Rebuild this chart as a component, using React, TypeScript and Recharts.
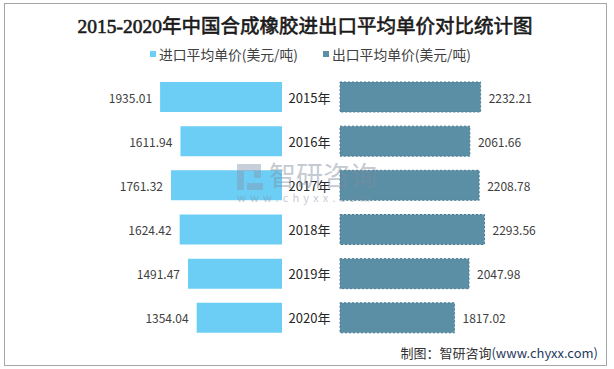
import React from 'react';
import { BarChart, Bar, XAxis, YAxis } from 'recharts';

const years = ['2015年', '2016年', '2017年', '2018年', '2019年', '2020年'];
const importPrice = [1935.01, 1611.94, 1761.32, 1624.42, 1491.47, 1354.04];
const exportPrice = [2232.21, 2061.66, 2208.78, 2293.56, 2047.98, 1817.02];
const seriesNames = ['进口平均单价(美元/吨)', '出口平均单价(美元/吨)'];
const title = '2015-2020年中国合成橡胶进出口平均单价对比统计图';
const sourceText = '制图：智研咨询';
const sourceUrl = '(www.chyxx.com)';

const data = years.map((y, i) => ({ year: y, imp: importPrice[i], exp: exportPrice[i] }));

const IMP_COLOR = '#6ccef5';
const EXP_COLOR = '#5b8fa6';
const FONT = '"Noto Sans CJK SC", "Noto Sans", sans-serif';

const ImpLabel = (props: any) => {
  const { x, y, width, height, value } = props;
  const left = Math.min(Number(x), Number(x) + Number(width));
  return (
    <text x={left - 8} y={Number(y) + Number(height) / 2} textAnchor="end" dominantBaseline="central"
      fontSize={12} fill="#404040" fontFamily={FONT}>
      {Number(value).toFixed(2)}
    </text>
  );
};

const ExpLabel = (props: any) => {
  const { x, y, width, height, value } = props;
  const right = Math.max(Number(x), Number(x) + Number(width));
  return (
    <text x={right + 8} y={Number(y) + Number(height) / 2} textAnchor="start" dominantBaseline="central"
      fontSize={12} fill="#404040" fontFamily={FONT}>
      {Number(value).toFixed(2)}
    </text>
  );
};

const YearTick = (props: any) => {
  const { y, payload } = props;
  return (
    <text x={27.5} y={y} textAnchor="middle" dominantBaseline="central" fontSize={13} fill="#262626" fontFamily={FONT}>
      {payload.value}
    </text>
  );
};

export default function App() {
  return (
    <div style={{ position: 'absolute', left: 0, top: 0, width: 614, height: 369, background: '#fff', fontFamily: FONT, overflow: 'hidden' }}>
      <div style={{ position: 'absolute', left: 4, top: 3, width: 603, height: 363, border: '1px solid #a6a6a6', boxSizing: 'border-box' }} />
      <div style={{ position: 'absolute', left: 0, top: 14, width: 610, textAlign: 'center', fontSize: 19.5, lineHeight: '26px', fontWeight: 400, WebkitTextStroke: '0.6px #1a1a1a', color: '#1a1a1a', fontFamily: '"Liberation Serif", "Noto Sans CJK SC", serif' } as any}>
        {title}
      </div>
      <div style={{ position: 'absolute', left: 150, top: 45, height: 18, display: 'flex', alignItems: 'center', fontSize: 13.8, color: '#404040', whiteSpace: 'nowrap' }}>
        <span style={{ display: 'inline-block', width: 6, height: 6, background: IMP_COLOR, marginRight: 3 }} />
        <span>{seriesNames[0]}</span>
      </div>
      <div style={{ position: 'absolute', left: 323, top: 45, height: 18, display: 'flex', alignItems: 'center', fontSize: 13.8, color: '#404040', whiteSpace: 'nowrap' }}>
        <span style={{ display: 'inline-block', width: 6, height: 6, background: EXP_COLOR, marginRight: 3 }} />
        <span>{seriesNames[1]}</span>
      </div>

      <div style={{ position: 'absolute', left: 40, top: 75 }}>
        <BarChart width={242} height={265} data={data} layout="vertical" margin={{ top: 0, right: 0, bottom: 0, left: 84.5 }}>
          <XAxis type="number" domain={[0, 2500]} reversed hide />
          <YAxis type="category" dataKey="year" hide />
          <Bar dataKey="imp" fill={IMP_COLOR} barSize={30} isAnimationActive={false} label={<ImpLabel />} />
        </BarChart>
      </div>

      <div style={{ position: 'absolute', left: 282, top: 75 }}>
        <BarChart width={290} height={265} data={data} layout="vertical" margin={{ top: 0, right: 74.5, bottom: 0, left: 0 }}>
          <XAxis type="number" domain={[0, 2500]} hide />
          <YAxis type="category" dataKey="year" width={58} axisLine={false} tickLine={false} tick={<YearTick />} />
          <Bar dataKey="exp" fill={EXP_COLOR} stroke="#4a7a92" strokeDasharray="2 2" strokeWidth={1} barSize={30} isAnimationActive={false} label={<ExpLabel />} />
        </BarChart>
      </div>

      <div style={{ position: 'absolute', left: 237, top: 162, width: 145, height: 44, opacity: 0.45, pointerEvents: 'none' }}>
        <svg width={26} height={26} style={{ position: 'absolute', left: 0, top: 2 }}>
          <rect x={0} y={0} width={7} height={26} fill="#8497b0" />
          <rect x={0} y={0} width={24} height={7} fill="#8497b0" />
          <rect x={17} y={0} width={7} height={14} fill="#8497b0" />
          <rect x={10} y={19} width={16} height={7} fill="#8497b0" />
        </svg>
        <div style={{ position: 'absolute', left: 32, top: -4, fontSize: 27, lineHeight: '34px', color: '#7f8c9d', whiteSpace: 'nowrap' }}>智研咨询</div>
        <div style={{ position: 'absolute', left: 0, top: 28, fontSize: 11, lineHeight: '14px', letterSpacing: 4.2, color: '#7f8c9d', whiteSpace: 'nowrap' }}>www.chyxx.com</div>
      </div>

      <div style={{ position: 'absolute', right: 16, top: 344, fontSize: 13, lineHeight: '18px', color: '#333', whiteSpace: 'nowrap' }}>
        {sourceText}<span style={{ color: '#1f3a60' }}>{sourceUrl}</span>
      </div>
    </div>
  );
}
